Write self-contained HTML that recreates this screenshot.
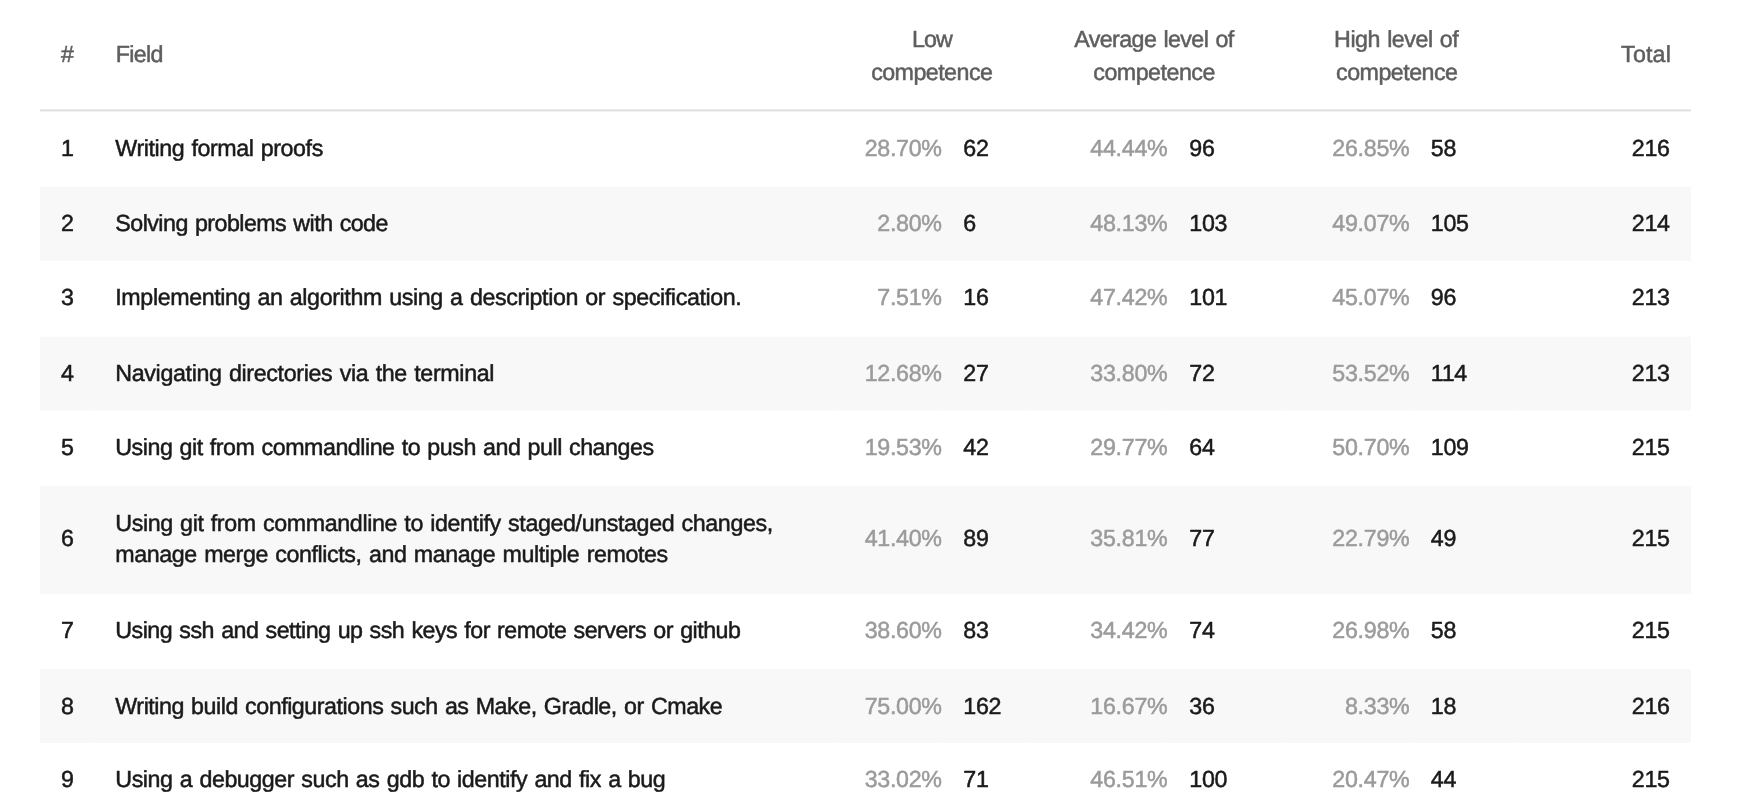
<!DOCTYPE html>
<html><head><meta charset="utf-8"><style>
html,body{margin:0;padding:0;background:#fff;width:1745px;height:811px;overflow:hidden;}
body{position:relative;font-family:"Liberation Sans",sans-serif;font-size:23.25px;}
.t{position:absolute;line-height:30px;white-space:nowrap;text-rendering:geometricPrecision;-webkit-text-stroke:0.5px currentColor;}
.h{color:#5e5e5e;}
.b,.h{word-spacing:1.2px;}
.b{color:#1a1a1a;}
.p{color:#9b9b9b;}
.g{position:absolute;left:40px;width:1651px;background:#f8f8f8;}
.s{position:absolute;width:1px;background:#f9f9f9;}
.tx{position:absolute;left:0;top:0;width:1745px;height:811px;will-change:transform;}
.hl{position:absolute;left:40px;width:1651px;height:1px;}
</style></head><body>
<div class="hl" style="top:109px;background:#ebebeb"></div><div class="hl" style="top:110px;background:#dfdfdf"></div><div class="hl" style="top:111px;background:#f3f3f3"></div>
<div class="g" style="top:187px;height:73px"></div><div class="g" style="top:337px;height:73px"></div><div class="g" style="top:487px;height:106px"></div><div class="g" style="top:669px;height:74px"></div><div class="g" style="top:186px;height:1px;background:#fdfdfd"></div><div class="g" style="top:260px;height:1px;background:#f9f9f9"></div><div class="g" style="top:336px;height:1px;background:#fdfdfd"></div><div class="g" style="top:410px;height:1px;background:#fbfbfb"></div><div class="g" style="top:486px;height:1px;background:#fafafa"></div><div class="g" style="top:593px;height:1px;background:#fafafa"></div>
<div class="s" style="left:94px;top:187px;height:73px"></div><div class="s" style="left:835px;top:187px;height:73px"></div><div class="s" style="left:942px;top:187px;height:73px"></div><div class="s" style="left:1029px;top:187px;height:73px"></div><div class="s" style="left:1167px;top:187px;height:73px"></div><div class="s" style="left:1280px;top:187px;height:73px"></div><div class="s" style="left:1409px;top:187px;height:73px"></div><div class="s" style="left:1514px;top:187px;height:73px"></div><div class="s" style="left:94px;top:337px;height:73px"></div><div class="s" style="left:835px;top:337px;height:73px"></div><div class="s" style="left:942px;top:337px;height:73px"></div><div class="s" style="left:1029px;top:337px;height:73px"></div><div class="s" style="left:1167px;top:337px;height:73px"></div><div class="s" style="left:1280px;top:337px;height:73px"></div><div class="s" style="left:1409px;top:337px;height:73px"></div><div class="s" style="left:1514px;top:337px;height:73px"></div><div class="s" style="left:94px;top:487px;height:106px"></div><div class="s" style="left:835px;top:487px;height:106px"></div><div class="s" style="left:942px;top:487px;height:106px"></div><div class="s" style="left:1029px;top:487px;height:106px"></div><div class="s" style="left:1167px;top:487px;height:106px"></div><div class="s" style="left:1280px;top:487px;height:106px"></div><div class="s" style="left:1409px;top:487px;height:106px"></div><div class="s" style="left:1514px;top:487px;height:106px"></div><div class="s" style="left:94px;top:669px;height:74px"></div><div class="s" style="left:835px;top:669px;height:74px"></div><div class="s" style="left:942px;top:669px;height:74px"></div><div class="s" style="left:1029px;top:669px;height:74px"></div><div class="s" style="left:1167px;top:669px;height:74px"></div><div class="s" style="left:1280px;top:669px;height:74px"></div><div class="s" style="left:1409px;top:669px;height:74px"></div><div class="s" style="left:1514px;top:669px;height:74px"></div>
<div class="tx"><div id="hhash" class="t h" style="top:38.70px;letter-spacing:0.000px;left:61.03px;">#</div><div id="hField" class="t h" style="top:38.70px;letter-spacing:-0.622px;left:115.64px;">Field</div><div id="hLow" class="t h" style="top:23.90px;letter-spacing:-0.948px;left:632.00px;width:600px;text-align:center;">Low</div><div id="hc1" class="t h" style="top:56.80px;letter-spacing:-0.545px;left:631.75px;width:600px;text-align:center;">competence</div><div id="hAvg" class="t h" style="top:23.90px;letter-spacing:-0.580px;left:853.92px;width:600px;text-align:center;">Average level of</div><div id="hc2" class="t h" style="top:56.80px;letter-spacing:-0.505px;left:854.10px;width:600px;text-align:center;">competence</div><div id="hHigh" class="t h" style="top:23.90px;letter-spacing:-0.479px;left:1096.17px;width:600px;text-align:center;">High level of</div><div id="hc3" class="t h" style="top:56.80px;letter-spacing:-0.531px;left:1096.80px;width:600px;text-align:center;">competence</div><div id="hTotal" class="t h" style="top:38.70px;letter-spacing:0.162px;right:73.99px;text-align:right;">Total</div><div id="n0" class="t b" style="top:132.80px;left:60.90px;">1</div><div id="l0" class="t b" style="top:132.80px;letter-spacing:-0.424px;left:115.30px;">Writing formal proofs</div><div id="p00" class="t p" style="top:132.80px;letter-spacing:-0.300px;right:803.30px;text-align:right;">28.70%</div><div id="c00" class="t b" style="top:132.80px;letter-spacing:-0.300px;left:963.30px;">62</div><div id="p01" class="t p" style="top:132.80px;letter-spacing:-0.300px;right:577.60px;text-align:right;">44.44%</div><div id="c01" class="t b" style="top:132.80px;letter-spacing:-0.300px;left:1189.30px;">96</div><div id="p02" class="t p" style="top:132.80px;letter-spacing:-0.300px;right:335.60px;text-align:right;">26.85%</div><div id="c02" class="t b" style="top:132.80px;letter-spacing:-0.300px;left:1430.80px;">58</div><div id="t0" class="t b" style="top:132.80px;letter-spacing:-0.300px;right:75.30px;text-align:right;">216</div><div id="n1" class="t b" style="top:207.80px;left:60.90px;">2</div><div id="l1" class="t b" style="top:207.80px;letter-spacing:-0.539px;left:115.30px;">Solving problems with code</div><div id="p10" class="t p" style="top:207.80px;letter-spacing:-0.300px;right:803.30px;text-align:right;">2.80%</div><div id="c10" class="t b" style="top:207.80px;letter-spacing:-0.300px;left:963.30px;">6</div><div id="p11" class="t p" style="top:207.80px;letter-spacing:-0.300px;right:577.60px;text-align:right;">48.13%</div><div id="c11" class="t b" style="top:207.80px;letter-spacing:-0.300px;left:1189.30px;">103</div><div id="p12" class="t p" style="top:207.80px;letter-spacing:-0.300px;right:335.60px;text-align:right;">49.07%</div><div id="c12" class="t b" style="top:207.80px;letter-spacing:-0.300px;left:1430.80px;">105</div><div id="t1" class="t b" style="top:207.80px;letter-spacing:-0.300px;right:75.30px;text-align:right;">214</div><div id="n2" class="t b" style="top:281.80px;left:60.90px;">3</div><div id="l2" class="t b" style="top:281.80px;letter-spacing:-0.390px;left:115.30px;">Implementing an algorithm using a description or specification.</div><div id="p20" class="t p" style="top:281.80px;letter-spacing:-0.300px;right:803.30px;text-align:right;">7.51%</div><div id="c20" class="t b" style="top:281.80px;letter-spacing:-0.300px;left:963.30px;">16</div><div id="p21" class="t p" style="top:281.80px;letter-spacing:-0.300px;right:577.60px;text-align:right;">47.42%</div><div id="c21" class="t b" style="top:281.80px;letter-spacing:-0.300px;left:1189.30px;">101</div><div id="p22" class="t p" style="top:281.80px;letter-spacing:-0.300px;right:335.60px;text-align:right;">45.07%</div><div id="c22" class="t b" style="top:281.80px;letter-spacing:-0.300px;left:1430.80px;">96</div><div id="t2" class="t b" style="top:281.80px;letter-spacing:-0.300px;right:75.30px;text-align:right;">213</div><div id="n3" class="t b" style="top:357.80px;left:60.90px;">4</div><div id="l3" class="t b" style="top:357.80px;letter-spacing:-0.350px;left:115.30px;">Navigating directories via the terminal</div><div id="p30" class="t p" style="top:357.80px;letter-spacing:-0.300px;right:803.30px;text-align:right;">12.68%</div><div id="c30" class="t b" style="top:357.80px;letter-spacing:-0.300px;left:963.30px;">27</div><div id="p31" class="t p" style="top:357.80px;letter-spacing:-0.300px;right:577.60px;text-align:right;">33.80%</div><div id="c31" class="t b" style="top:357.80px;letter-spacing:-0.300px;left:1189.30px;">72</div><div id="p32" class="t p" style="top:357.80px;letter-spacing:-0.300px;right:335.60px;text-align:right;">53.52%</div><div id="c32" class="t b" style="top:357.80px;letter-spacing:-0.300px;left:1430.80px;">114</div><div id="t3" class="t b" style="top:357.80px;letter-spacing:-0.300px;right:75.30px;text-align:right;">213</div><div id="n4" class="t b" style="top:431.60px;left:60.90px;">5</div><div id="l4" class="t b" style="top:431.60px;letter-spacing:-0.480px;left:115.30px;">Using git from commandline to push and pull changes</div><div id="p40" class="t p" style="top:431.60px;letter-spacing:-0.300px;right:803.30px;text-align:right;">19.53%</div><div id="c40" class="t b" style="top:431.60px;letter-spacing:-0.300px;left:963.30px;">42</div><div id="p41" class="t p" style="top:431.60px;letter-spacing:-0.300px;right:577.60px;text-align:right;">29.77%</div><div id="c41" class="t b" style="top:431.60px;letter-spacing:-0.300px;left:1189.30px;">64</div><div id="p42" class="t p" style="top:431.60px;letter-spacing:-0.300px;right:335.60px;text-align:right;">50.70%</div><div id="c42" class="t b" style="top:431.60px;letter-spacing:-0.300px;left:1430.80px;">109</div><div id="t4" class="t b" style="top:431.60px;letter-spacing:-0.300px;right:75.30px;text-align:right;">215</div><div id="n5" class="t b" style="top:523.00px;left:60.90px;">6</div><div id="l5a" class="t b" style="top:507.70px;letter-spacing:-0.385px;left:115.30px;">Using git from commandline to identify staged/unstaged changes,</div><div id="l5b" class="t b" style="top:538.70px;letter-spacing:-0.407px;left:115.30px;">manage merge conflicts, and manage multiple remotes</div><div id="p50" class="t p" style="top:523.00px;letter-spacing:-0.300px;right:803.30px;text-align:right;">41.40%</div><div id="c50" class="t b" style="top:523.00px;letter-spacing:-0.300px;left:963.30px;">89</div><div id="p51" class="t p" style="top:523.00px;letter-spacing:-0.300px;right:577.60px;text-align:right;">35.81%</div><div id="c51" class="t b" style="top:523.00px;letter-spacing:-0.300px;left:1189.30px;">77</div><div id="p52" class="t p" style="top:523.00px;letter-spacing:-0.300px;right:335.60px;text-align:right;">22.79%</div><div id="c52" class="t b" style="top:523.00px;letter-spacing:-0.300px;left:1430.80px;">49</div><div id="t5" class="t b" style="top:523.00px;letter-spacing:-0.300px;right:75.30px;text-align:right;">215</div><div id="n6" class="t b" style="top:614.70px;left:60.90px;">7</div><div id="l6" class="t b" style="top:614.70px;letter-spacing:-0.510px;left:115.30px;">Using ssh and setting up ssh keys for remote servers or github</div><div id="p60" class="t p" style="top:614.70px;letter-spacing:-0.300px;right:803.30px;text-align:right;">38.60%</div><div id="c60" class="t b" style="top:614.70px;letter-spacing:-0.300px;left:963.30px;">83</div><div id="p61" class="t p" style="top:614.70px;letter-spacing:-0.300px;right:577.60px;text-align:right;">34.42%</div><div id="c61" class="t b" style="top:614.70px;letter-spacing:-0.300px;left:1189.30px;">74</div><div id="p62" class="t p" style="top:614.70px;letter-spacing:-0.300px;right:335.60px;text-align:right;">26.98%</div><div id="c62" class="t b" style="top:614.70px;letter-spacing:-0.300px;left:1430.80px;">58</div><div id="t6" class="t b" style="top:614.70px;letter-spacing:-0.300px;right:75.30px;text-align:right;">215</div><div id="n7" class="t b" style="top:690.70px;left:60.90px;">8</div><div id="l7" class="t b" style="top:690.70px;letter-spacing:-0.469px;left:115.30px;">Writing build configurations such as Make, Gradle, or Cmake</div><div id="p70" class="t p" style="top:690.70px;letter-spacing:-0.300px;right:803.30px;text-align:right;">75.00%</div><div id="c70" class="t b" style="top:690.70px;letter-spacing:-0.300px;left:963.30px;">162</div><div id="p71" class="t p" style="top:690.70px;letter-spacing:-0.300px;right:577.60px;text-align:right;">16.67%</div><div id="c71" class="t b" style="top:690.70px;letter-spacing:-0.300px;left:1189.30px;">36</div><div id="p72" class="t p" style="top:690.70px;letter-spacing:-0.300px;right:335.60px;text-align:right;">8.33%</div><div id="c72" class="t b" style="top:690.70px;letter-spacing:-0.300px;left:1430.80px;">18</div><div id="t7" class="t b" style="top:690.70px;letter-spacing:-0.300px;right:75.30px;text-align:right;">216</div><div id="n8" class="t b" style="top:763.90px;left:60.90px;">9</div><div id="l8" class="t b" style="top:763.90px;letter-spacing:-0.447px;left:115.30px;">Using a debugger such as gdb to identify and fix a bug</div><div id="p80" class="t p" style="top:763.90px;letter-spacing:-0.300px;right:803.30px;text-align:right;">33.02%</div><div id="c80" class="t b" style="top:763.90px;letter-spacing:-0.300px;left:963.30px;">71</div><div id="p81" class="t p" style="top:763.90px;letter-spacing:-0.300px;right:577.60px;text-align:right;">46.51%</div><div id="c81" class="t b" style="top:763.90px;letter-spacing:-0.300px;left:1189.30px;">100</div><div id="p82" class="t p" style="top:763.90px;letter-spacing:-0.300px;right:335.60px;text-align:right;">20.47%</div><div id="c82" class="t b" style="top:763.90px;letter-spacing:-0.300px;left:1430.80px;">44</div><div id="t8" class="t b" style="top:763.90px;letter-spacing:-0.300px;right:75.30px;text-align:right;">215</div></div>
</body></html>
